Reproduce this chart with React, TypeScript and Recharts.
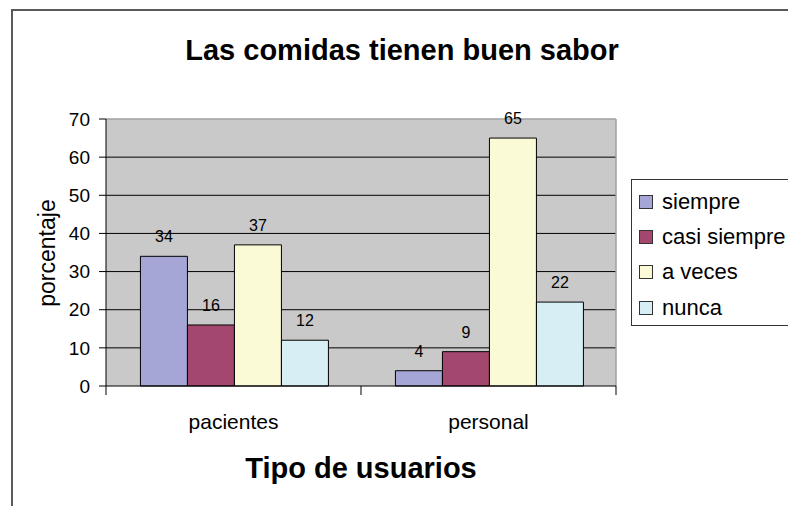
import { BarChart, Bar, XAxis, YAxis, CartesianGrid, LabelList } from "recharts";

const categories = ["pacientes", "personal"];
const siempre = [34, 4];
const casiSiempre = [16, 9];
const aVeces = [37, 65];
const nunca = [12, 22];

const seriesKeys = ["siempre", "casiSiempre", "aVeces", "nunca"];
const seriesNames = ["siempre", "casi siempre", "a veces", "nunca"];
const seriesColors = ["#A6A6D6", "#A3476F", "#FAFAD7", "#D7EEF4"];

const yTicks = [0, 10, 20, 30, 40, 50, 60, 70];
const gridValues = [10, 20, 30, 40, 50, 60];
const edgeTicks = [0, 1, 2];

const data = categories.map((name, i) => ({
  name,
  pos: i + 0.5,
  siempre: siempre[i],
  casiSiempre: casiSiempre[i],
  aVeces: aVeces[i],
  nunca: nunca[i],
}));

const font = "'Liberation Sans', Arial, sans-serif";

function LegendBox() {
  return (
    <div
      style={{
        position: "absolute",
        left: 631,
        top: 179,
        width: 160,
        height: 147,
        boxSizing: "border-box",
        border: "1px solid #333",
        background: "#fff",
        paddingTop: 4,
        fontFamily: font,
        fontSize: 22,
        color: "#000",
      }}
    >
      {seriesNames.map((name, i) => (
        <div
          key={name}
          style={{ display: "flex", alignItems: "center", height: 35.3 }}
        >
          <div
            style={{
              width: 12,
              height: 12,
              marginLeft: 7,
              marginRight: 9,
              border: "1px solid #333",
              background: seriesColors[i],
            }}
          />
          <span>{name}</span>
        </div>
      ))}
    </div>
  );
}

export default function App() {
  return (
    <div
      style={{
        position: "absolute",
        left: 0,
        top: 0,
        width: 788,
        height: 506,
        background: "#fff",
        overflow: "hidden",
        fontFamily: font,
      }}
    >
      {/* frame */}
      <div
        style={{
          position: "absolute",
          left: 11,
          top: 9,
          width: 800,
          height: 520,
          borderLeft: "2px solid #5a5a5a",
          borderTop: "2px solid #5a5a5a",
        }}
      />
      <div
        style={{
          position: "absolute",
          left: 0,
          top: 34,
          width: 804,
          textAlign: "center",
          fontWeight: "bold",
          fontSize: 29,
          color: "#000",
        }}
      >
        Las comidas tienen buen sabor
      </div>
      <div
        style={{
          position: "absolute",
          left: 47,
          top: 253,
          transform: "translate(-50%, -50%) rotate(-90deg)",
          fontSize: 23,
          whiteSpace: "nowrap",
          color: "#000",
        }}
      >
        porcentaje
      </div>
      <div
        style={{
          position: "absolute",
          left: 0,
          top: 452,
          width: 722,
          textAlign: "center",
          fontWeight: "bold",
          fontSize: 29,
          color: "#000",
        }}
      >
        Tipo de usuarios
      </div>

      <div style={{ position: "absolute", left: 0, top: 0 }}>
        <BarChart
          width={788}
          height={506}
          data={data}
          margin={{ top: 119, right: 172, bottom: 78, left: 61 }}
          barGap={0}
          barCategoryGap="13.5%"
        >
          <CartesianGrid
            fill="#C9C9C9"
            stroke="#000"
            vertical={false}
            horizontalValues={gridValues}
          />
          <CartesianGrid
            stroke="#A0A0A0"
            strokeWidth={1.5}
            horizontalValues={[70]}
            verticalValues={[2]}
          />
          {/* plot edge axis with boundary ticks between the two groups */}
          <XAxis
            dataKey="pos"
            type="number"
            domain={[0, categories.length]}
            ticks={edgeTicks}
            tickFormatter={() => ""}
            tickSize={9}
            height={12}
            axisLine={{ stroke: "#000" }}
            tickLine={{ stroke: "#000" }}
          />
          <XAxis
            xAxisId="cat"
            dataKey="name"
            height={30}
            axisLine={false}
            tickLine={false}
            tickMargin={10}
            tick={{ fill: "#000", fontSize: 21, fontFamily: font }}
          />
          <YAxis
            domain={[0, 70]}
            ticks={yTicks}
            width={45}
            tickSize={7}
            tickMargin={9}
            axisLine={{ stroke: "#000" }}
            tickLine={{ stroke: "#000" }}
            tick={{ fill: "#000", fontSize: 19, fontFamily: font }}
          />
          {seriesKeys.map((key, i) => (
            <Bar
              key={key}
              xAxisId="cat"
              dataKey={key}
              name={seriesNames[i]}
              fill={seriesColors[i]}
              stroke="#000"
              strokeWidth={1}
              isAnimationActive={false}
            >
              <LabelList
                dataKey={key}
                position="top"
                offset={14}
                fill="#000"
                fontSize={16}
                fontFamily={font}
              />
            </Bar>
          ))}
        </BarChart>
      </div>
      <LegendBox />
    </div>
  );
}
